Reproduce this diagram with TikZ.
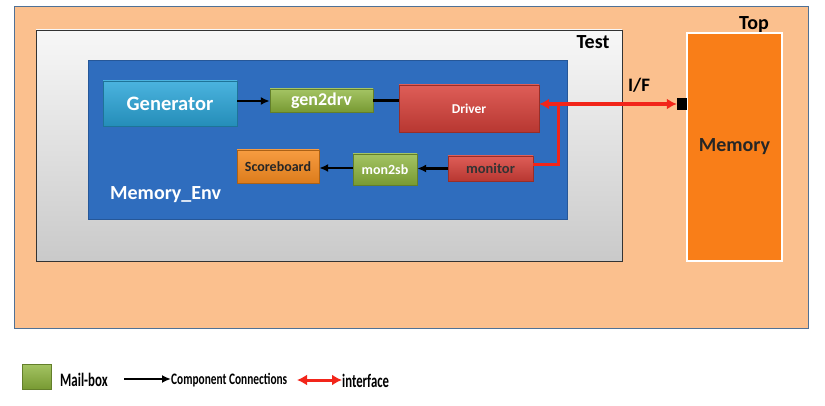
\documentclass[tikz,border=0pt]{standalone}
\usepackage{fontspec}
\setmainfont{Carlito}
\usetikzlibrary{arrows.meta}
\definecolor{peach}{HTML}{FBC08E}
\definecolor{topedge}{HTML}{4F7196}
\definecolor{envblue}{HTML}{2F6DBE}
\definecolor{gencyan}{HTML}{2BA6D9}
\definecolor{mbgreen}{HTML}{8DB53C}
\definecolor{drvred}{HTML}{D8413A}
\definecolor{sborange}{HTML}{F58A1F}
\definecolor{memorange}{HTML}{F97E18}
\definecolor{ifred}{HTML}{F2251A}
\newcommand{\fsz}[1]{\bfseries\fontsize{#1}{#1}\selectfont}
\newcommand{\cond}[2]{\scalebox{#1}[1]{#2}}
\tikzset{
  blk/.style={draw=none, inner sep=0pt, font=\bfseries},
  mailbox/.style={blk, top color=mbgreen!80!white, bottom color=mbgreen!85!black, draw=mbgreen!70!black, text=white},
  conn/.style={-{Latex[length=9pt,width=8pt]}, line width=2.6pt, black},
  iface/.style={{Latex[length=10pt,width=11pt]}-{Latex[length=10pt,width=11pt]}, line width=3.5pt, ifred},
  ifline/.style={line width=3pt, ifred},
}
\begin{document}
\begin{tikzpicture}[x=1pt,y=-1pt]
\useasboundingbox (0,0) rectangle (825,406);
\fill[white] (0,0) rectangle (825,406);
% Top
\node[blk, fill=peach, draw=topedge, line width=1pt, minimum width=794pt, minimum height=321pt] (top) at (411,167.5) {};
\node[font=\fsz{20}, anchor=base] (toplbl) at (754,30) {Top};
% Test
\node[blk, top color=white!94!gray, bottom color=gray!42!white, draw=black!80, line width=0.6pt, minimum width=586pt, minimum height=231pt] (test) at (329,145.5) {};
\node[font=\fsz{20}, anchor=base] (testlbl) at (593,49) {Test};
% Memory_Env
\node[blk, fill=envblue, draw=envblue!80!black, minimum width=479pt, minimum height=159pt] (env) at (327.5,139.5) {};
\node[font=\fsz{20}, text=white, anchor=base west, inner sep=0pt] (envlbl) at (110,200) {Memory\_Env};
% Generator
\node[blk, top color=gencyan!85!white, bottom color=gencyan!85!black, draw=gencyan!70!black, text=white, minimum width=134pt, minimum height=45pt, font=\fsz{20.5}] (gen) at (170,103.5) {Generator};
% gen2drv
\node[mailbox, minimum width=103pt, minimum height=23pt, font=\fsz{18}] (g2d) at (321.5,100.5) {gen2drv};
% Driver
\node[blk, top color=drvred!85!white, bottom color=drvred!85!black, draw=drvred!70!black, text=white, minimum width=140pt, minimum height=47pt, font=\fsz{13.5}] (drv) at (469,108.5) {Driver};
% Scoreboard
\node[blk, top color=sborange!85!white, bottom color=sborange!90!black, draw=sborange!70!black, text=black!85, minimum width=82pt, minimum height=33pt, font=\fsz{14}] (sb) at (278,166.5) {Scoreboard};
% mon2sb
\node[mailbox, minimum width=64pt, minimum height=31pt, font=\fsz{14}] (m2s) at (385,169.5) {mon2sb};
% monitor
\node[blk, top color=drvred!85!white, bottom color=drvred!85!black, draw=drvred!70!black, text=black!80, minimum width=85pt, minimum height=25pt, font=\fsz{14.5}] (mon) at (490.5,168.5) {monitor};
% Memory
\node[blk, fill=memorange, draw=white, line width=1.5pt, minimum width=95pt, minimum height=228pt, font=\fsz{20}, text=black!85] (mem) at (734.5,147) {Memory};
% port
\node[blk, fill=black, minimum width=10pt, minimum height=12pt] (port) at (682,104) {};
% I/F label
\node[font=\fsz{19}, anchor=base] (iflbl) at (639,92) {I/F};
% connectors
\draw[conn] (gen.east |- 0,101) -- (g2d.west |- 0,101);
\draw[line width=2.6pt, black] (g2d.east) -- (drv.west |- g2d.east);
\draw[conn] (mon.west) -- (m2s.east |- mon.west);
\draw[conn] (m2s.west |- 0,168) -- (sb.east |- 0,168);
\coordinate (jn) at (558,104);
\draw[iface] (drv.east |- jn) -- (port.west);
\draw[ifline] (jn) -- (558,165) -- (mon.east |- 0,165);
% legend
\node[mailbox, minimum width=29pt, minimum height=25pt] (lgbox) at (36.5,376.5) {};
\node[font=\fsz{19}, anchor=base west, inner sep=0pt] (lgmb) at (60,386) {\cond{0.68}{Mail-box}};
\coordinate (lca) at (124,379);
\node[font=\fsz{16}, anchor=base west, inner sep=0pt] (lgcc) at (171,384) {\cond{0.71}{Component Connections}};
\draw[conn] (lca) -- (lgcc.west |- lca);
\node[font=\fsz{19}, anchor=base west, inner sep=0pt] (lgif) at (342,387) {\cond{0.67}{interface}};
\coordinate (lia) at (297,380);
\draw[iface, line width=3pt] (lia) -- (lgif.west |- lia);
\end{tikzpicture}
\end{document}
